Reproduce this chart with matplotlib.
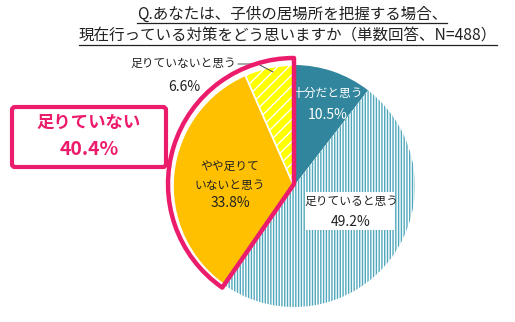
import matplotlib
matplotlib.use('Agg')
import matplotlib.pyplot as plt
from matplotlib.patches import Wedge, FancyBboxPatch, Rectangle
from matplotlib.lines import Line2D

plt.rcParams['font.family'] = ['Noto Sans CJK JP', 'DejaVu Sans']
plt.rcParams['hatch.linewidth'] = 1.0

# data (clockwise from 12 o'clock)
labels = ['十分だと思う', '足りていると思う', 'やや足りて\nいないと思う', '足りていないと思う']
values = [10.5, 49.2, 33.8, 6.6]
total_not_enough = 40.4
title_lines = ['Q.あなたは、子供の居場所を把握する場合、',
               '現在行っている対策をどう思いますか（単数回答、N=488）']

pink = '#EC1C6C'
teal_dark = '#31859C'
teal_stripe = '#4FA7BC'
orange = '#FFC000'
yellow = '#FFFF00'

W, H = 515, 322
fig = plt.figure(figsize=(W / 100, H / 100), dpi=100)
ax = fig.add_axes([0, 0, 1, 1])

cx, cy, r = 294, 136, 121
wedges, _ = ax.pie(values, startangle=90, counterclock=False,
                   center=(cx, cy), radius=r, frame=True,
                   wedgeprops=dict(linewidth=0))
wedges[0].set_facecolor(teal_dark)
wedges[1].set_facecolor('white')
wedges[1].set_edgecolor(teal_stripe)
wedges[1].set_hatch('||||||')
wedges[1].set_linewidth(0)
wedges[2].set_facecolor(orange)
wedges[2].set_edgecolor('white')
wedges[2].set_linewidth(1.2)
wedges[3].set_facecolor(yellow)
wedges[3].set_edgecolor('white')
wedges[3].set_hatch('///')
wedges[3].set_linewidth(1.2)

# pink outline around the two "not enough" slices
t1 = min(wedges[2].theta1, wedges[3].theta1)
t2 = max(wedges[2].theta2, wedges[3].theta2)
ax.add_patch(Wedge((cx, cy + 2), r + 5, t1, t2, facecolor='none',
                   edgecolor=pink, linewidth=3.2, joinstyle='round', zorder=5))

ax.set_xlim(0, W)
ax.set_ylim(0, H)
ax.set_aspect('equal')
ax.axis('off')

# slice labels
ax.text(328, 229, labels[0], color='white', fontsize=8.5, ha='center', va='center')
ax.text(328, 207, f'{values[0]}%', color='white', fontsize=10, ha='center', va='center')
ax.add_patch(Rectangle((305, 92), 90, 38, facecolor='white', edgecolor='none', zorder=3))
ax.text(351, 121, labels[1], color='#222222', fontsize=8.5, ha='center', va='center', zorder=4)
ax.text(351, 100, f'{values[1]}%', color='#222222', fontsize=10, ha='center', va='center', zorder=4)
ax.text(230, 146, labels[2], color='#222222', fontsize=8.5,
        ha='center', va='center', linespacing=1.55)
ax.text(230, 119, f'{values[2]}%', color='#222222', fontsize=10, ha='center', va='center')
ax.text(183, 259, labels[3], color='#222222', fontsize=8.5, ha='center', va='center')
ax.text(184, 235, f'{values[3]}%', color='#222222', fontsize=10, ha='center', va='center')
ax.add_line(Line2D([238, 258, 273], [258, 258, 250], color='#333333', linewidth=0.6))

# pink callout box
ax.add_patch(FancyBboxPatch((12, 155), 154, 60, boxstyle='round,pad=0,rounding_size=3',
                            facecolor='white', edgecolor=pink, linewidth=3))
ax.text(89, 199, '足りていない', color=pink, fontsize=12.5, fontweight='bold',
        ha='center', va='center')
ax.text(89, 173, f'{total_not_enough}%', color=pink, fontsize=14, fontweight='bold',
        ha='center', va='center')

# title with underline
t_a = ax.text(292, 308, title_lines[0], fontsize=11.2, color='#222222', ha='center', va='center')
t_b = ax.text(288, 286, title_lines[1], fontsize=11.2, color='#222222', ha='center', va='center')
fig.canvas.draw()
inv = ax.transData.inverted()
for t in (t_a, t_b):
    bb = t.get_window_extent()
    (x0, y0), (x1, y1) = inv.transform([(bb.x0, bb.y0), (bb.x1, bb.y1)])
    ax.add_line(Line2D([x0, x1], [y0 - 0.5, y0 - 0.5], color='#222222', linewidth=0.9))

fig.savefig('out.png', dpi=100)
